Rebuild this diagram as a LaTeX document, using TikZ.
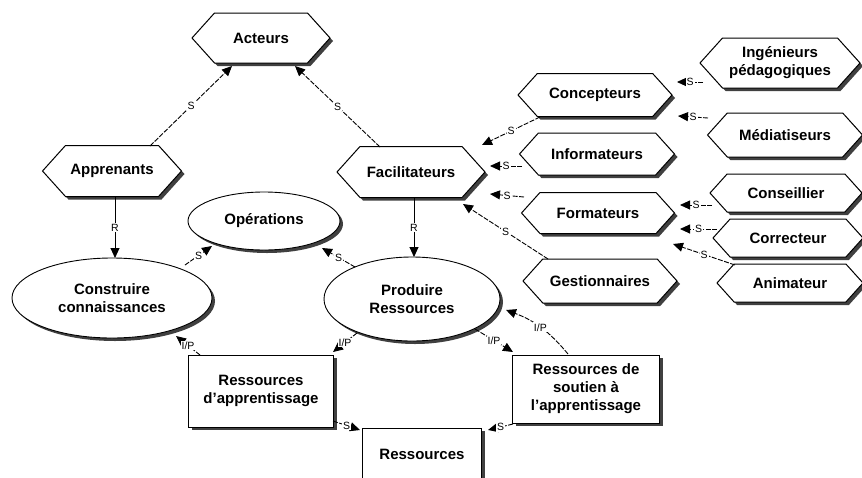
\documentclass[tikz,border=0pt]{standalone}
\usepackage{fontspec}
\setmainfont{Liberation Sans}
\usetikzlibrary{shapes.symbols,shapes.geometric,shadows,arrows.meta}
\begin{document}
\begin{tikzpicture}[x=1pt,y=-1pt,
  every node/.style={font=\fontsize{15}{18}\selectfont\bfseries, align=center, inner sep=0pt},
  shade3/.style={drop shadow={shadow xshift=3pt,shadow yshift=-3pt,opacity=1,fill=black!75}},
  hexa/.style={signal, signal to=west and east, signal pointer angle=96,
    draw, line width=1pt, fill=white, shade3},
  proc/.style={ellipse, draw, line width=0.9pt, fill=white, shade3},
  resbox/.style={rectangle, draw, line width=1pt, fill=white, shade3},
  link/.style={line width=0.9pt, dash pattern=on 5pt off 1.5pt,
    -{Triangle[length=10pt,width=9pt]}},
  solidlink/.style={line width=0.9pt, -{Triangle[length=10pt,width=9pt]}},
  tag/.style={font=\fontsize{10.5}{10.5}\selectfont, fill=white, inner sep=1pt},
]
\useasboundingbox (0,0) rectangle (862,477);

% actors
\node[hexa, minimum width=138pt, minimum height=50pt] (act) at (261,38) {Acteurs};
\node[hexa, minimum width=139pt, minimum height=51pt] (app) at (112,171) {Apprenants};
\node[hexa, minimum width=148pt, minimum height=51pt] (fac) at (411,172) {Facilitateurs};
\node[hexa, minimum width=154pt, minimum height=43pt] (conc) at (595,95) {Concepteurs};
\node[hexa, minimum width=155pt, minimum height=42pt] (info) at (597,154) {Informateurs};
\node[hexa, minimum width=153pt, minimum height=41pt] (form) at (598,213) {Formateurs};
\node[hexa, minimum width=154pt, minimum height=44pt] (gest) at (600,281) {Gestionnaires};
\node[hexa, minimum width=160pt, minimum height=50pt] (ing) at (780,63) {Ingénieurs\\pédagogiques};
\node[hexa, minimum width=155pt, minimum height=44pt] (med) at (785,135) {Médiatiseurs};
\node[hexa, minimum width=152pt, minimum height=38pt] (csl) at (786,193) {Conseillier};
\node[hexa, minimum width=150pt, minimum height=38pt] (corr) at (788,238) {Correcteur};
\node[hexa, minimum width=146pt, minimum height=38pt] (anim) at (790,283) {Animateur};

% processes
\node[proc, minimum width=152pt, minimum height=58pt] (ope) at (264,221) {Opérations};
\node[proc, minimum width=200pt, minimum height=80pt] (cons) at (112,298) {Construire\\connaissances};
\node[proc, minimum width=176pt, minimum height=84pt] (prod) at (412,299) {Produire\\Ressources};

% resources
\node[resbox, minimum width=145pt, minimum height=72pt] (rapp) at (261,391) {Ressources\\d'apprentissage};
\node[resbox, minimum width=147pt, minimum height=68pt] (rsout) at (586,389) {Ressources de\\soutien à\\l'apprentissage};
\node[resbox, minimum width=119pt, minimum height=52pt] (res) at (422,454) {Ressources};

% specialisation links
\draw[link] ([shift={(38,-25)}]app.center) -- node[tag]{S} ([shift={(-29,28)}]act.center);
\draw[link] ([shift={(-31,-25)}]fac.center) -- node[tag]{S} ([shift={(34,28)}]act.center);
\draw[link] ([shift={(73,-33)}]cons.center) -- node[tag]{S} ([shift={(-52,25)}]ope.center);
\draw[link] ([shift={(-57,-32)}]prod.center) -- node[tag]{S} ([shift={(58,27)}]ope.center);
\draw[link] ([shift={(-55,22)}]conc.center) -- node[tag]{S} ([shift={(71,-27)}]fac.center);
\draw[link] ([shift={(-75,12)}]info.center) -- node[tag]{S} ([shift={(79,-6)}]fac.center);
\draw[link] ([shift={(-74,-16)}]form.center) -- node[tag]{S} ([shift={(79,22)}]fac.center);
\draw[link] ([shift={(-52,-22)}]gest.center) -- node[tag]{S} ([shift={(52,32)}]fac.center);
\draw[link] ([shift={(-77,19)}]ing.center) -- node[tag]{S} ([shift={(82,-13)}]conc.center);
\draw[link] ([shift={(-77,-17)}]med.center) -- node[tag]{S} ([shift={(83,21)}]conc.center);
\draw[link] ([shift={(-74,12)}]csl.center) -- node[tag]{S} ([shift={(82,-8)}]form.center);
\draw[link] ([shift={(-71,-9)}]corr.center) -- node[tag]{S} ([shift={(82,16)}]form.center);
\draw[link] ([shift={(-55,-18)}]anim.center) -- node[tag]{S} ([shift={(75,31)}]form.center);
\draw[link] ([shift={(72,30)}]rapp.center) -- node[tag]{S} ([shift={(-62,-24)}]res.center);
\draw[link] ([shift={(-73,35)}]rsout.center) -- node[tag]{S} ([shift={(66,-24)}]res.center);

% regulation links
\draw[solidlink] ([shift={(3,26)}]app.center) -- node[tag]{R} ([shift={(3,-40)}]cons.center);
\draw[solidlink] ([shift={(3,26)}]fac.center) -- node[tag]{R} ([shift={(2,-42)}]prod.center);

% input / product links
\draw[link] ([shift={(-61,-36)}]rapp.center) -- node[tag]{I/P} ([shift={(64,38)}]cons.center);
\draw[link] ([shift={(-55,34)}]prod.center) -- node[tag]{I/P} ([shift={(72,-39)}]rapp.center);
\draw[link] ([shift={(63,30)}]prod.center) -- node[tag]{I/P} ([shift={(-73,-37)}]rsout.center);
\draw[link] ([shift={(-18,-35)}]rsout.center) to[bend right=15] node[tag]{I/P} ([shift={(94,11)}]prod.center);
\end{tikzpicture}
\end{document}
